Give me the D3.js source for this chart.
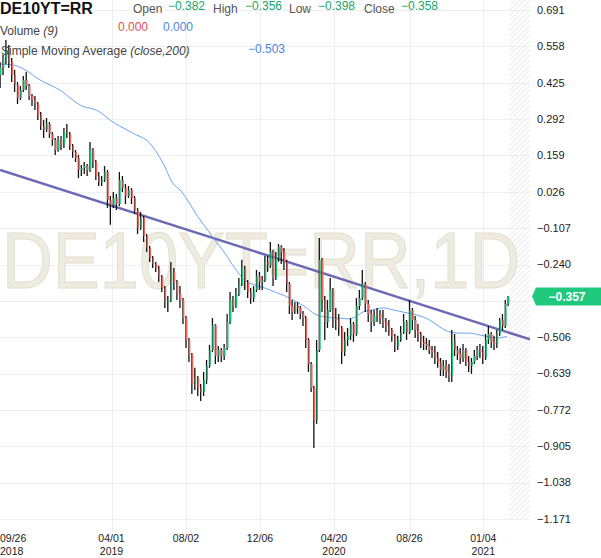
<!DOCTYPE html>
<html>
<head>
<meta charset="utf-8">
<script src="https://cdn.jsdelivr.net/npm/d3@7"></script>
<style>
  body { margin: 0; background: #fff; }
  svg { display: block; font-family: "Liberation Sans", Arial, sans-serif; }
</style>
</head>
<body>
<svg id="chart"></svg>
<script>
// ---- data ----
const symbol = 'DE10YT=RR'
const watermark = 'DE10YT=RR,1D'
const firstDate = '2018-09-21'   // one candle every 5 calendar days
const stepDays = 5

const opens = [
  .453,.479,.515,.545,.501,.453,.417,.369,.398,.435,
  .413,.376,.362,.347,.307,.267,.252,.274,.237,.215,
  .179,.215,.197,.245,.237,.194,.172,.150,.106,.113,
  .120,.106,.179,.135,.084,.062,.069,.098,-.004,-.022,
  .003,-.019,.069,.040,.011,.033,.003,-.041,-.106,-.070,
  -.136,-.180,-.216,-.238,-.253,-.285,-.326,-.377,-.370,-.267,
  -.304,-.348,-.370,-.436,-.516,-.571,-.677,-.655,-.692,-.706,
  -.662,-.611,-.553,-.461,-.575,-.553,-.575,-.545,-.450,-.370,
  -.392,-.348,-.311,-.253,-.304,-.341,-.363,-.333,-.282,-.304,
  -.297,-.231,-.245,-.194,-.289,-.216,-.175,-.194,-.231,-.311,
  -.392,-.414,-.392,-.399,-.420,-.436,-.516,-.604,-.692,-.809,
  -.553,-.223,-.370,-.450,-.406,-.333,-.436,-.443,-.472,-.560,
  -.516,-.501,-.458,-.494,-.392,-.363,-.311,-.384,-.421,-.450,
  -.428,-.421,-.436,-.450,-.465,-.480,-.501,-.538,-.516,-.487,
  -.450,-.487,-.406,-.443,-.480,-.494,-.523,-.531,-.538,-.553,
  -.560,-.582,-.597,-.626,-.611,-.633,-.648,-.516,-.553,-.567,
  -.582,-.553,-.597,-.611,-.597,-.575,-.553,-.560,-.582,-.516,
  -.494,-.523,-.531,-.494,-.443,-.465,-.384
]
const highs = [
  .501,.526,.581,.563,.515,.472,.428,.413,.450,.464,
  .420,.384,.376,.354,.318,.289,.296,.281,.245,.223,
  .230,.230,.259,.274,.245,.201,.179,.161,.124,.135,
  .128,.208,.186,.142,.098,.084,.120,.106,.011,.025,
  .018,.098,.084,.055,.047,.040,.011,-.033,-.048,-.062,
  -.128,-.172,-.209,-.231,-.245,-.278,-.319,-.355,-.231,-.253,
  -.297,-.319,-.363,-.428,-.509,-.564,-.618,-.648,-.677,-.633,
  -.589,-.534,-.436,-.458,-.538,-.545,-.531,-.421,-.341,-.355,
  -.326,-.289,-.223,-.245,-.297,-.326,-.319,-.260,-.267,-.282,
  -.209,-.209,-.158,-.187,-.194,-.165,-.170,-.180,-.223,-.304,
  -.370,-.377,-.377,-.392,-.410,-.428,-.509,-.597,-.684,-.516,
  -.143,-.216,-.355,-.370,-.289,-.326,-.399,-.421,-.465,-.487,
  -.472,-.436,-.450,-.363,-.333,-.260,-.304,-.370,-.406,-.406,
  -.399,-.406,-.406,-.436,-.443,-.472,-.494,-.501,-.465,-.421,
  -.443,-.370,-.399,-.428,-.458,-.487,-.501,-.509,-.516,-.538,
  -.538,-.560,-.582,-.589,-.589,-.604,-.480,-.494,-.538,-.545,
  -.531,-.545,-.575,-.582,-.553,-.538,-.531,-.538,-.494,-.465,
  -.487,-.501,-.480,-.436,-.421,-.370,-.355
]
const lows = [
  .406,.453,.493,.479,.428,.391,.347,.362,.391,.398,
  .362,.340,.325,.289,.252,.223,.245,.223,.194,.161,
  .172,.179,.186,.223,.179,.150,.135,.076,.084,.091,
  .084,.098,.113,.069,.047,.047,.062,-.033,-.095,-.033,
  -.041,-.026,.025,-.019,.003,-.019,-.055,-.128,-.114,-.158,
  -.194,-.231,-.253,-.267,-.304,-.341,-.399,-.414,-.377,-.333,
  -.370,-.399,-.458,-.545,-.597,-.714,-.699,-.721,-.739,-.721,
  -.677,-.618,-.560,-.604,-.597,-.597,-.589,-.553,-.458,-.414,
  -.399,-.355,-.319,-.333,-.363,-.384,-.377,-.341,-.333,-.333,
  -.304,-.267,-.253,-.319,-.297,-.230,-.238,-.260,-.341,-.421,
  -.443,-.421,-.421,-.440,-.465,-.545,-.633,-.706,-.911,-.823,
  -.560,-.414,-.516,-.472,-.414,-.472,-.480,-.501,-.604,-.575,
  -.538,-.516,-.523,-.501,-.406,-.370,-.414,-.450,-.487,-.465,
  -.450,-.458,-.472,-.487,-.501,-.523,-.560,-.553,-.523,-.494,
  -.516,-.494,-.480,-.509,-.523,-.545,-.553,-.553,-.567,-.582,
  -.604,-.618,-.648,-.648,-.655,-.670,-.670,-.575,-.589,-.604,
  -.597,-.611,-.633,-.640,-.604,-.589,-.582,-.604,-.589,-.531,
  -.545,-.553,-.545,-.501,-.480,-.472,-.392
]
const closes = [
  .479,.515,.545,.501,.453,.417,.369,.398,.435,.413,
  .376,.362,.347,.307,.267,.252,.274,.237,.215,.179,
  .215,.197,.245,.237,.194,.172,.150,.106,.113,.120,
  .106,.179,.135,.084,.062,.069,.098,-.004,-.022,.003,
  -.019,.069,.040,.011,.033,.003,-.041,-.106,-.070,-.136,
  -.180,-.216,-.238,-.253,-.285,-.326,-.377,-.370,-.267,-.304,
  -.348,-.370,-.436,-.516,-.571,-.677,-.655,-.692,-.706,-.662,
  -.611,-.553,-.461,-.575,-.553,-.575,-.545,-.450,-.370,-.392,
  -.348,-.311,-.253,-.304,-.341,-.363,-.333,-.282,-.304,-.297,
  -.231,-.245,-.194,-.289,-.216,-.175,-.194,-.231,-.311,-.392,
  -.414,-.392,-.399,-.420,-.436,-.516,-.604,-.692,-.809,-.553,
  -.223,-.370,-.450,-.406,-.333,-.436,-.443,-.472,-.560,-.516,
  -.501,-.458,-.494,-.392,-.363,-.311,-.384,-.421,-.450,-.428,
  -.421,-.436,-.450,-.465,-.480,-.501,-.538,-.516,-.487,-.450,
  -.487,-.406,-.443,-.480,-.494,-.523,-.531,-.538,-.553,-.560,
  -.582,-.597,-.626,-.611,-.633,-.648,-.516,-.553,-.567,-.582,
  -.553,-.597,-.611,-.597,-.575,-.553,-.560,-.582,-.516,-.494,
  -.523,-.531,-.494,-.443,-.465,-.384,-.357
]

// simple moving average (close,200)
const smaDates = ['2018-09-21','2018-10-13','2018-11-03','2018-11-29','2019-01-02','2019-02-06','2019-03-12','2019-03-29',
  '2019-05-06','2019-06-03','2019-06-25','2019-07-11','2019-07-23','2019-08-26','2019-09-08','2019-09-20','2019-10-07',
  '2019-10-24','2019-11-10','2019-11-27','2019-12-15','2020-01-03','2020-01-21','2020-02-08','2020-02-27','2020-03-16',
  '2020-04-03','2020-04-27','2020-05-14','2020-05-26','2020-06-08','2020-06-25','2020-07-12','2020-07-29','2020-08-15',
  '2020-09-08','2020-10-01','2020-10-19','2020-11-06','2020-11-24','2020-12-11','2020-12-29','2021-01-16','2021-01-28','2021-02-15']
const smaValues = [.493,.490,.472,.435,.398,.343,.318,.289,
  .241,.204,.131,.058,.033,-.077,-.114,-.150,-.198,
  -.253,-.297,-.315,-.326,-.341,-.355,-.373,-.395,-.421,
  -.432,-.436,-.439,-.432,-.414,-.406,-.399,-.406,-.414,
  -.425,-.443,-.469,-.487,-.491,-.491,-.498,-.505,-.509,-.503]

// drawn trend line
const trendDates = ['2018-09-21', '2021-03-28']
const trendValues = [0.106, -0.514]

// header
const ohlcLabels = ['Open', 'High', 'Low', 'Close']
const ohlcValues = [-0.382, -0.356, -0.398, -0.358]
const volumeValues = [0, 0]
const smaLast = -0.503

// axes
const yTicks = [0.691, 0.558, 0.425, 0.292, 0.159, 0.026, -0.107, -0.240, -0.373, -0.506, -0.639, -0.772, -0.905, -1.038, -1.171]
const xTickDates = ['2018-09-26', '2019-04-01', '2019-08-02', '2019-12-06', '2020-04-20', '2020-08-26', '2021-01-04']
const xTickLabels = ['09/26', '04/01', '08/02', '12/06', '04/20', '08/26', '01/04']
const xTickYears = ['2018', '2019', '', '', '2020', '', '2021']

// ---- layout ----
const width = 601, height = 558
const plotLeft = 0, plotRight = 530, plotTop = 10, plotBottom = 519
const tickStops = [3, 111.5, 186, 260, 334, 409.5, 483.3] // trading-day axis, so piecewise
const green = '#1fc07c', red = '#f0625a', upTxt = '#16a66a', blueTxt = '#4a86e2'

const parse = d3.timeParse('%Y-%m-%d')
const start = parse(firstDate)
const dates = d3.timeDay.range(start, d3.timeDay.offset(start, stepDays * closes.length), stepDays)
const candles = closes.map((c, i) => ({ date: dates[i], o: opens[i], h: highs[i], l: lows[i], c }))

const x = d3.scaleTime().domain(xTickDates.map(parse)).range(tickStops)
const y = d3.scaleLinear().domain([-1.171, 0.691]).range([plotBottom, plotTop])

const svg = d3.select('#chart').attr('width', width).attr('height', height)

const defs = svg.append('defs')
defs.append('clipPath').attr('id', 'plotClip')
  .append('rect').attr('x', plotLeft).attr('y', 0).attr('width', plotRight - plotLeft).attr('height', plotBottom)
const pat = defs.append('pattern').attr('id', 'hatch')
  .attr('patternUnits', 'userSpaceOnUse').attr('width', 5).attr('height', 5)
pat.append('path').attr('d', 'M0,5L5,0M-1,1L1,-1M4,6L6,4')
  .attr('stroke', '#e8e8e8').attr('stroke-width', 1)

// grid
svg.append('g').selectAll('line').data(yTicks).join('line')
  .attr('x1', plotLeft).attr('x2', plotRight)
  .attr('y1', d => Math.round(y(d)) + 0.5).attr('y2', d => Math.round(y(d)) + 0.5)
  .attr('stroke', '#efefef')
svg.append('g').selectAll('line').data(xTickDates.slice(1)).join('line')
  .attr('x1', d => Math.round(x(parse(d))) + 0.5).attr('x2', d => Math.round(x(parse(d))) + 0.5)
  .attr('y1', 0).attr('y2', 532)
  .attr('stroke', '#efefef')

// future zone
const lastX = x(dates[dates.length - 1])
svg.append('rect').attr('x', lastX + 1).attr('y', 0)
  .attr('width', plotRight - lastX - 1).attr('height', plotBottom)
  .attr('fill', 'url(#hatch)')

// watermark, squeezed horizontally to fit the plot
svg.append('text')
  .attr('transform', 'translate(2,288) scale(0.88,1)')
  .attr('font-size', 80)
  .attr('fill', '#eeebe1').attr('stroke', '#e3dfd0').attr('stroke-width', 1)
  .text(watermark)

const plot = svg.append('g').attr('clip-path', 'url(#plotClip)')

// trend line
plot.append('path')
  .datum(trendDates.map((d, i) => [parse(d), trendValues[i]]))
  .attr('fill', 'none').attr('stroke', '#6c6ab4').attr('stroke-width', 2.5)
  .attr('d', d3.line().x(d => x(d[0])).y(d => y(d[1])))

// SMA
plot.append('path')
  .datum(smaDates.map((d, i) => [parse(d), smaValues[i]]))
  .attr('fill', 'none').attr('stroke', '#6aa4f4').attr('stroke-width', 1)
  .attr('d', d3.line().curve(d3.curveMonotoneX).x(d => x(d[0])).y(d => y(d[1])))

// candles
plot.append('g').selectAll('line').data(candles).join('line')
  .attr('x1', d => x(d.date)).attr('x2', d => x(d.date))
  .attr('y1', d => y(d.h)).attr('y2', d => y(d.l))
  .attr('stroke', '#111').attr('stroke-width', 1.3)
plot.append('g').selectAll('rect').data(candles).join('rect')
  .attr('x', d => x(d.date) - 0.1).attr('width', 1.5)
  .attr('y', d => y(Math.max(d.o, d.c)))
  .attr('height', d => Math.max(1, Math.abs(y(d.o) - y(d.c))))
  .attr('fill', d => d.c >= d.o ? green : red)

// last price tag position, the tick under it is hidden as in the source
const last = closes[closes.length - 1]
const ly = y(last)

// y axis labels
svg.append('g').selectAll('text').data(yTicks.filter(t => Math.abs(y(t) - ly) > 10)).join('text')
  .attr('x', 537).attr('y', d => y(d)).attr('dy', '0.35em')
  .attr('font-size', 11).attr('fill', '#222')
  .text(d => d3.format('.3f')(d))

svg.append('path')
  .attr('d', `M532,${ly}L536,${ly - 9}H601V${ly + 9}H536Z`)
  .attr('fill', '#1fc97e')
svg.append('text').attr('x', 567).attr('y', ly).attr('dy', '0.35em')
  .attr('text-anchor', 'middle').attr('font-size', 12).attr('font-weight', 'bold')
  .attr('fill', '#fff').text(d3.format('.3f')(last))

// x axis labels: date line and year line
const xg = svg.append('g').attr('font-size', 10.5).attr('fill', '#222')
const xPos = (d, i) => i === 0 ? 0 : x(parse(d))
const xAnchor = (d, i) => i === 0 ? 'start' : 'middle'
xg.selectAll('text.md').data(xTickDates).join('text').attr('class', 'md')
  .attr('x', xPos).attr('y', 542).attr('text-anchor', xAnchor)
  .text((d, i) => xTickLabels[i])
xg.selectAll('text.yr').data(xTickDates.filter((d, i) => xTickYears[i])).join('text').attr('class', 'yr')
  .attr('x', d => xPos(d, xTickDates.indexOf(d))).attr('y', 554.5)
  .attr('text-anchor', d => xAnchor(d, xTickDates.indexOf(d)))
  .text(d => xTickYears[xTickDates.indexOf(d)])

// header
const head = svg.append('g').attr('font-size', 12)
head.append('text').attr('x', 0).attr('y', 13.5).attr('font-size', 16).attr('font-weight', 'bold')
  .attr('fill', '#111').text(symbol)
const labelX = [133, 213, 289, 364], valueX = [168, 245, 318, 401]
ohlcLabels.forEach((l, i) => {
  head.append('text').attr('x', labelX[i]).attr('y', 13).attr('fill', '#555').text(l)
  head.append('text').attr('x', valueX[i]).attr('y', 9.5).attr('fill', upTxt).text(d3.format('.3f')(ohlcValues[i]))
})
const vol = head.append('text').attr('x', 0).attr('y', 35).attr('fill', '#444')
vol.append('tspan').text('Volume ')
vol.append('tspan').attr('font-style', 'italic').text('(9)')
head.append('text').attr('x', 118).attr('y', 31).attr('fill', '#e0504c').text(d3.format('.3f')(volumeValues[0]))
head.append('text').attr('x', 163).attr('y', 31).attr('fill', blueTxt).text(d3.format('.3f')(volumeValues[1]))
const sm = head.append('text').attr('x', 1).attr('y', 55).attr('fill', '#444')
sm.append('tspan').text('Simple Moving Average ')
sm.append('tspan').attr('font-style', 'italic').text('(close,200)')
head.append('text').attr('x', 248).attr('y', 52.5).attr('fill', blueTxt).text(d3.format('.3f')(smaLast))
</script>
</body>
</html>
